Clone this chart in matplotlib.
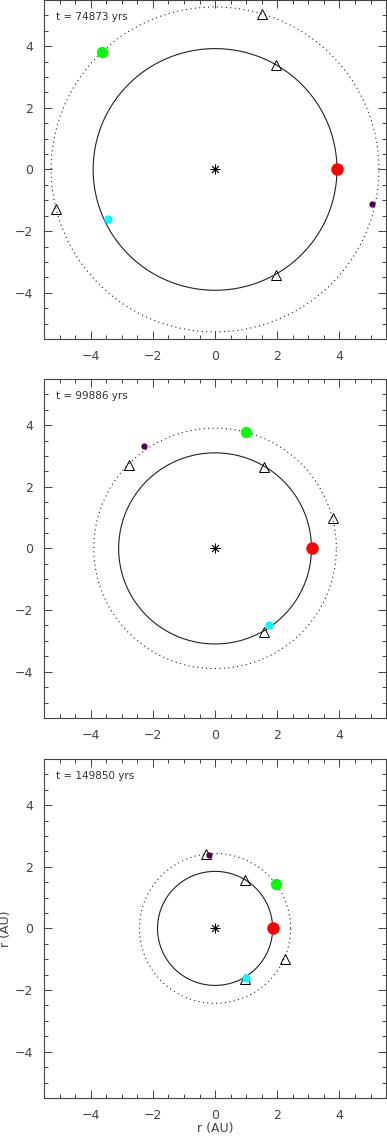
import numpy as np
import matplotlib
matplotlib.use("Agg")
import matplotlib.pyplot as plt
from matplotlib.ticker import MultipleLocator

# snapshot times (yrs)
times = [74873, 99886, 149850]

# orbit radii (AU): solid inner circle, dotted outer circle
inner_r = [3.92, 3.10, 1.85]
outer_r = [5.27, 3.90, 2.43]

# bodies per snapshot: (x, y)
red_xy = [(3.93, 0.0), (3.12, 0.0), (1.87, 0.0)]
green_xy = [(-3.62, 3.81), (1.00, 3.78), (1.97, 1.45)]
cyan_xy = [(-3.44, -1.60), (1.73, -2.47), (0.99, -1.61)]
purple_xy = [(5.05, -1.11), (-2.30, 3.31), (-0.19, 2.37)]

# open triangles
tri_x = [[1.51, 1.97, 1.97, -5.11],
         [-2.76, 1.56, 3.78, 1.56],
         [-0.30, 0.95, 2.26, 0.95]]
tri_y = [[5.03, 3.40, -3.41, -1.27],
         [2.72, 2.65, 1.00, -2.70],
         [2.42, 1.58, -0.99, -1.65]]

fig = plt.figure(figsize=(3.87, 11.36), dpi=100)
bottoms = [0.7016, 0.368, 0.0335]
theta = np.linspace(0, 2 * np.pi, 400)

for i, y0 in enumerate(bottoms):
    ax = fig.add_axes([0.1137, y0, 0.884, 0.2985])

    ax.plot(inner_r[i] * np.cos(theta), inner_r[i] * np.sin(theta),
            color="#222222", lw=0.8)
    ax.plot(outer_r[i] * np.cos(theta), outer_r[i] * np.sin(theta),
            color="#222222", lw=0.8, linestyle=(0, (1, 3)))

    ax.plot(0, 0, marker=(8, 2, 0), color="black", ms=7, mew=0.6)
    ax.plot(tri_x[i], tri_y[i], linestyle="none", marker="^", ms=7.5,
            mfc="none", mec="black", mew=0.7)

    ax.plot(*red_xy[i], "o", color="#ff0000", ms=9, mec="none")
    ax.plot(*green_xy[i], "o", color="#00ff00", ms=8.2, mec="none")
    ax.plot(*cyan_xy[i], "o", color="#00ffff", ms=6, mec="none")
    ax.plot(*purple_xy[i], "o", color="#500050", ms=4.5, mec="none")

    ax.text(-5.1, 4.93, f"t = {times[i]} yrs", fontsize=7.5, color="#333333",
            va="center", ha="left")

    ax.set_xlim(-5.5, 5.5)
    ax.set_ylim(-5.5, 5.5)
    ax.xaxis.set_major_locator(MultipleLocator(2))
    ax.yaxis.set_major_locator(MultipleLocator(2))
    ax.xaxis.set_minor_locator(MultipleLocator(0.5))
    ax.yaxis.set_minor_locator(MultipleLocator(0.5))
    ax.tick_params(which="both", direction="in", top=True, right=True,
                   color="#444444", width=0.7, labelsize=9,
                   labelcolor="#444444")
    ax.tick_params(which="major", length=6, pad=8)
    ax.tick_params(which="minor", length=3)
    for s in ax.spines.values():
        s.set_linewidth(0.8)
        s.set_color("#444444")

    if i == 2:
        ax.set_xlabel("r (AU)", fontsize=9, color="#444444", labelpad=0)
        ax.set_ylabel("r (AU)", fontsize=9, color="#444444", labelpad=2)

fig.savefig("out.png", dpi=100)
